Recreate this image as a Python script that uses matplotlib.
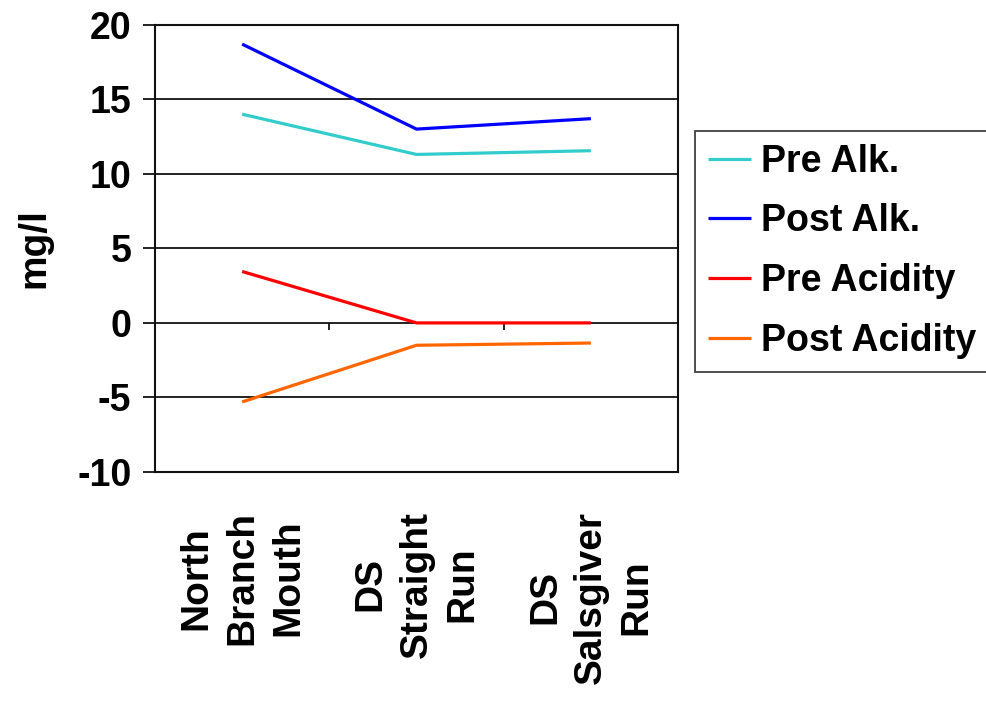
import matplotlib
matplotlib.use("Agg")
import matplotlib.pyplot as plt
import numpy as np

categories = ["North\nBranch\nMouth", "DS\nStraight\nRun", "DS\nSalsgiver\nRun"]
pre_alk = [14.0, 11.3, 11.55]
post_alk = [18.7, 13.0, 13.7]
pre_acid = [3.45, 0.0, 0.0]
post_acid = [-5.3, -1.5, -1.35]
series_names = ["Pre Alk.", "Post Alk.", "Pre Acidity", "Post Acidity"]
series_colors = ["#33CCCC", "#0000FF", "#FF0000", "#FF6600"]
yticks = [-10, -5, 0, 5, 10, 15, 20]

plt.rcParams['font.family'] = ['Liberation Sans', 'DejaVu Sans']
plt.rcParams['font.weight'] = 'bold'

fig = plt.figure(figsize=(9.87, 7.01), dpi=100)
ax = fig.add_axes([0.157, 0.3267, 0.530, 0.638])

x = np.arange(len(categories))
for vals, name, col in zip([pre_alk, post_alk, pre_acid, post_acid], series_names, series_colors):
    ax.plot(x, vals, color=col, lw=2.3, label=name, zorder=3, solid_capstyle='butt')

ax.set_xlim(-0.5, len(categories) - 0.5)
ax.set_ylim(min(yticks), max(yticks))
ax.set_yticks(yticks)
ax.set_yticklabels([str(t) for t in yticks], fontsize=27, fontweight='bold')
for t in yticks:
    ax.axhline(t, color='#111111', lw=1.3, zorder=1)
ax.tick_params(axis='y', length=9, width=1.3, color='#111111', pad=8)

# category ticks on zero line between categories
mids = x[:-1] + 0.5
ax.vlines(mids, -0.5, 0, color='#111111', lw=1.3, zorder=2)

ax.set_xticks(x)
ax.set_xticklabels(categories, rotation=90, fontsize=28, fontweight='bold',
                   multialignment='center', va='top', ha='center', linespacing=1.35)
ax.tick_params(axis='x', length=0, pad=28)

for s in ax.spines.values():
    s.set_color('#111111')
    s.set_linewidth(1.5)

ax.set_ylabel("mg/l", fontsize=28, fontweight='bold', labelpad=18)

leg = ax.legend(loc='upper left', bbox_to_anchor=(1.0325, 0.763), fontsize=27,
                frameon=True, fancybox=False, edgecolor='#111111',
                handlelength=1.15, handletextpad=0.27, labelspacing=0.63,
                borderpad=0.35, borderaxespad=0)
leg.get_frame().set_linewidth(1.3)
for t in leg.get_texts():
    t.set_fontweight('bold')

fig.savefig("out.png", dpi=100)
